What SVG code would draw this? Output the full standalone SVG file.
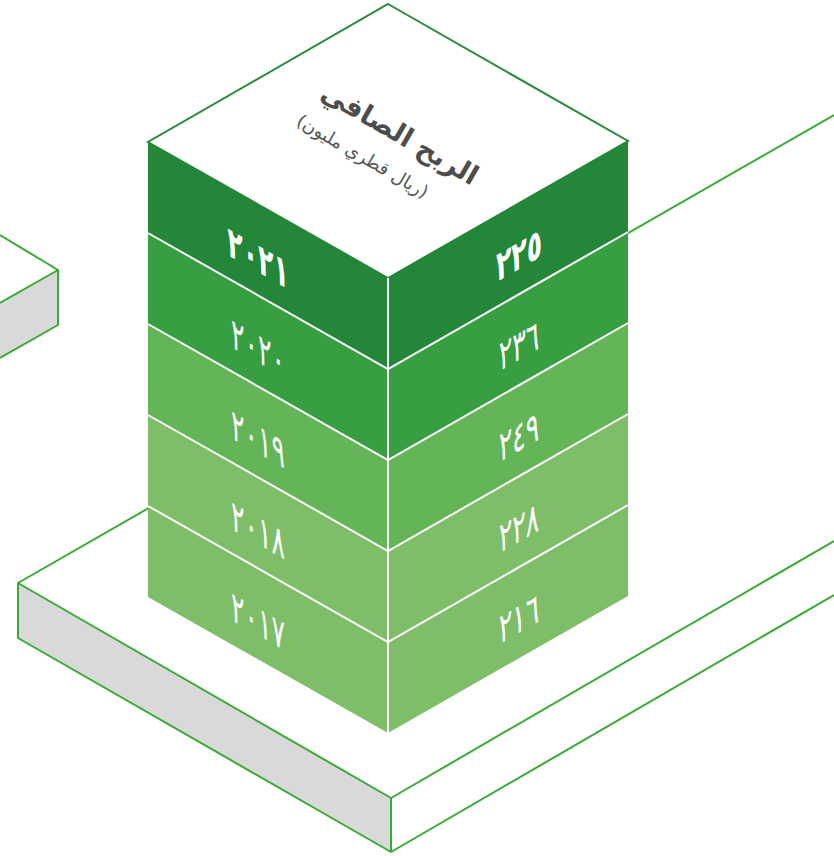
<svg xmlns="http://www.w3.org/2000/svg" width="834" height="856" viewBox="0 0 834 856">
<style>
.edge{stroke:#3aaa35;stroke-width:2;stroke-linejoin:round;fill:none}
.sep{stroke:#ffffff;stroke-width:2;fill:none}
.yr{font-family:"DejaVu Sans",sans-serif;font-size:42px;fill:#ffffff;text-anchor:middle}
.bold{font-weight:bold}
.c1{fill:#238638}
.c2{fill:#389e42}
.c3{fill:#63b557}
.c4{fill:#7ebe68}
.c5{fill:#7ebe68}
</style>
<rect width="834" height="856" fill="#ffffff"/>
<g id="small-slab">
  <polygon points="0,303 58,270 58,325 0,358" fill="#d9d9d9"/>
  <polyline points="0,235 58,270 0,303" class="edge"/>
  <polyline points="58,270 58,325 0,358" class="edge"/>
</g>
<g id="base-slab">
  <polygon points="18,583 391,798 391,852 18,638" fill="#d9d9d9"/>
  <polyline class="edge" points="834,115 18,583 18,638 391,852 834,595"/>
  <polyline class="edge" points="18,583 391,798 834,541"/>
  <line class="edge" x1="391" y1="798" x2="391" y2="852"/>
</g>
<g id="top-face">
  <polygon points="388,4 628,141 388,278 148,142" fill="#ffffff" stroke="#2a8a3a" stroke-width="2"/>
  <g transform="translate(398,133) rotate(30)" font-family="DejaVu Sans, sans-serif" text-anchor="middle">
    <text x="2" y="9" font-size="27" font-weight="bold" fill="#4d4d4d" direction="rtl">الربح الصافي</text>
    <text x="-19" y="44" font-size="18" fill="#555555" direction="rtl">(ريال قطري مليون)</text>
  </g>
</g>
<g id="layer-2021">
  <polygon class="c1" points="148,142 388,278 388,369 148,233"/>
  <polygon class="c1" points="388,278 628,141 628,232 388,369"/>
</g>
<g id="layer-2020">
  <polygon class="c2" points="148,233 388,369 388,460 148,324"/>
  <polygon class="c2" points="388,369 628,232 628,323 388,460"/>
</g>
<g id="layer-2019">
  <polygon class="c3" points="148,324 388,460 388,551 148,415"/>
  <polygon class="c3" points="388,460 628,323 628,414 388,551"/>
</g>
<g id="layer-2018">
  <polygon class="c4" points="148,415 388,551 388,642 148,506"/>
  <polygon class="c4" points="388,551 628,414 628,505 388,642"/>
</g>
<g id="layer-2017">
  <polygon class="c5" points="148,506 388,642 388,733 148,597"/>
  <polygon class="c5" points="388,642 628,505 628,596 388,733"/>
</g>
<g id="separators">
  <polyline class="sep" points="148,233 388,369 628,232"/>
  <polyline class="sep" points="148,324 388,460 628,323"/>
  <polyline class="sep" points="148,415 388,551 628,414"/>
  <polyline class="sep" points="148,506 388,642 628,505"/>
  <line class="sep" x1="388" y1="278" x2="388" y2="733"/>
</g>
<g id="years" transform="translate(148,142) skewY(29.54)">
  <text class="yr bold" transform="translate(110,68) scale(0.6,1)">٢٠٢١</text>
  <text class="yr" transform="translate(110,158) scale(0.6,1)">٢٠٢٠</text>
  <text class="yr" transform="translate(110,249) scale(0.6,1)">٢٠١٩</text>
  <text class="yr" transform="translate(110,340) scale(0.6,1)">٢٠١٨</text>
  <text class="yr" transform="translate(110,431) scale(0.6,1)">٢٠١٧</text>
</g>
<g id="values" transform="translate(388,278) skewY(-29.8)">
  <text class="yr bold" transform="translate(131,66) scale(0.6,1)">٢٢٥</text>
  <text class="yr" transform="translate(131,157) scale(0.6,1)">٢٣٦</text>
  <text class="yr" transform="translate(131,248) scale(0.6,1)">٢٤٩</text>
  <text class="yr" transform="translate(131,339) scale(0.6,1)">٢٢٨</text>
  <text class="yr" transform="translate(131,430) scale(0.6,1)">٢١٦</text>
</g>
<g id="connectors"></g>
</svg>
